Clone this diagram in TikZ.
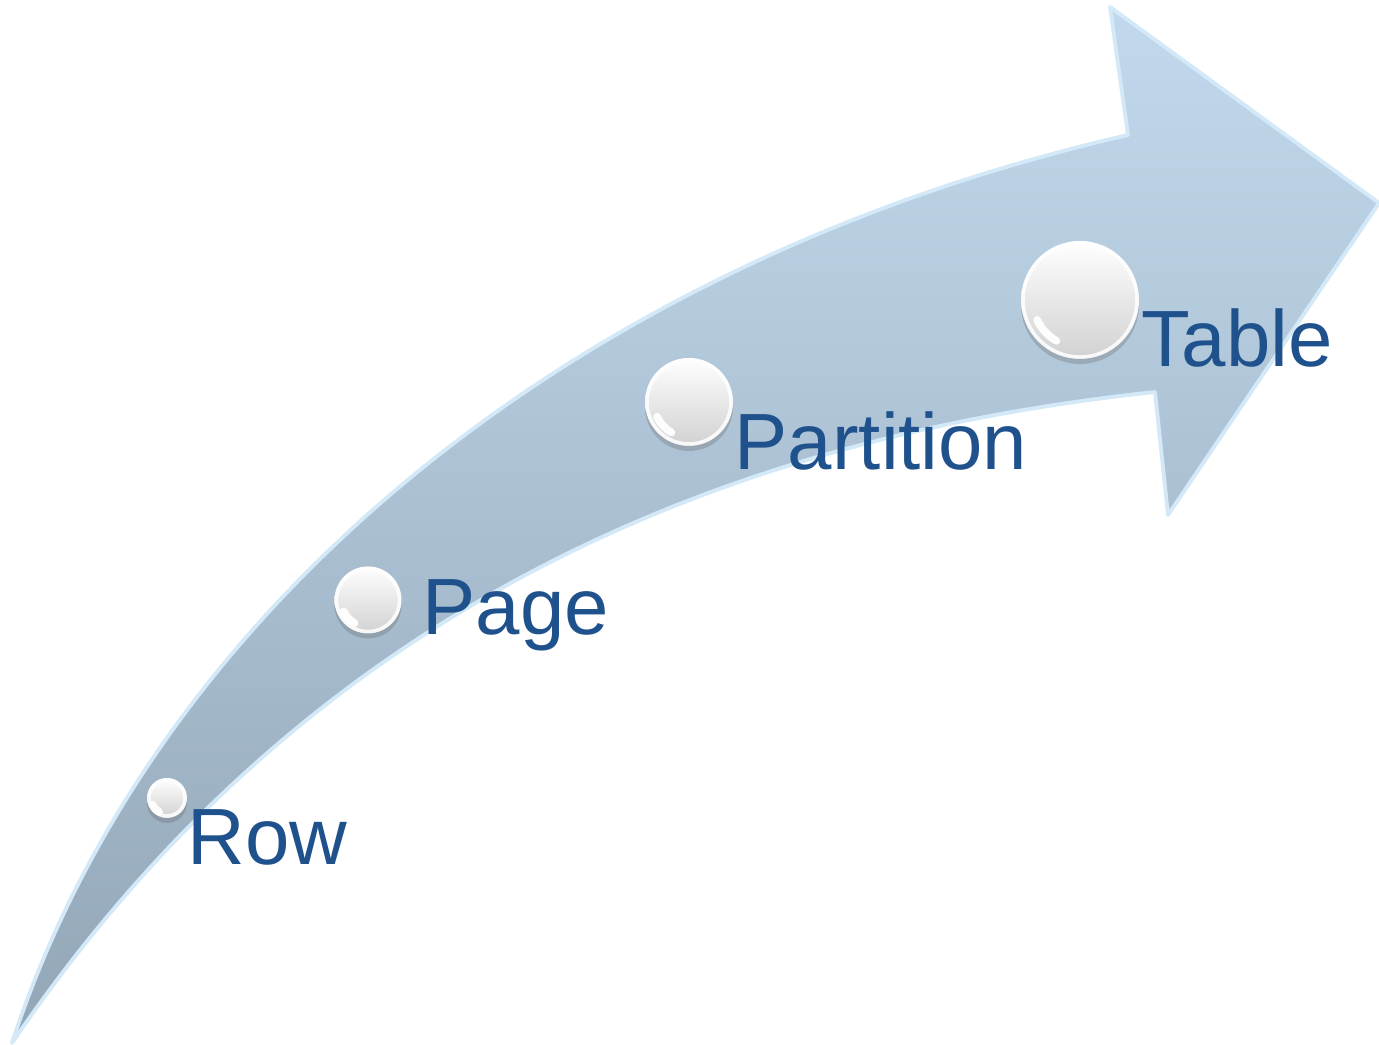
\documentclass[tikz,border=0pt]{standalone}
\usepackage{fontspec}
\setmainfont{Liberation Sans}
\usetikzlibrary{shadows}
\definecolor{txtblue}{RGB}{31,82,140}
\definecolor{arrtop}{RGB}{194,217,237}
\definecolor{arrmid}{RGB}{174,196,215}
\definecolor{arrbot}{RGB}{146,166,182}
\definecolor{arredge}{RGB}{212,233,248}
\tikzset{
  arrowfill/.style={top color=arrtop, middle color=arrmid, bottom color=arrbot, draw=arredge, line width=1.1pt, line join=round},
  pearl/.style={circle, inner sep=0pt, minimum size=#1, top color=white, bottom color=black!18,
     drop shadow={shadow xshift=0pt, shadow yshift=-0.05cm, opacity=0.3, fill=black!60}},
  label/.style={anchor=base west, inner sep=0pt, text=txtblue, font=\fontsize{22.7}{27}\selectfont},
  rim/.style={draw=white, line width=1.0pt, opacity=0.85},
  gloss/.style={draw=white, line width=2.2pt, line cap=round, opacity=0.95}
}
\begin{document}
\begin{tikzpicture}
\useasboundingbox (0,0) rectangle (13.79,10.45);
% curved arrow
\shadedraw[arrowfill]
  (0.12,0.02) .. controls (1.50,4.25) and (5.60,7.80) .. (11.28,9.10)
  -- (11.10,10.38) -- (13.79,8.42) -- (11.68,5.30) -- (11.55,6.53)
  .. controls (8.00,6.15) and (3.40,4.85) .. (0.12,0.02)
  -- cycle;
% pearls
\node[pearl=0.40cm] (prow) at (1.67,2.47) {};
\node[pearl=0.67cm] (ppage) at (3.68,4.45) {};
\node[pearl=0.88cm] (ppart) at (6.89,6.43) {};
\node[pearl=1.18cm] (ptable) at (10.80,7.45) {};
\foreach \p/\r in {prow/0.20, ppage/0.335, ppart/0.44, ptable/0.59}{
  \draw[rim] (\p.center) circle ({\r-0.02});
  \draw[gloss] ([shift={(205:{\r*0.8})}]\p.center) arc (205:240:{\r*0.8});
}
% labels
\node[label] (trow) at (1.87,1.80) {Row};
\node[label] (tpage) at (4.22,4.10) {Page};
\node[label] (tpart) at (7.34,5.75) {Partition};
\node[label] (ttable) at (11.41,6.78) {Table};
\end{tikzpicture}
\end{document}
